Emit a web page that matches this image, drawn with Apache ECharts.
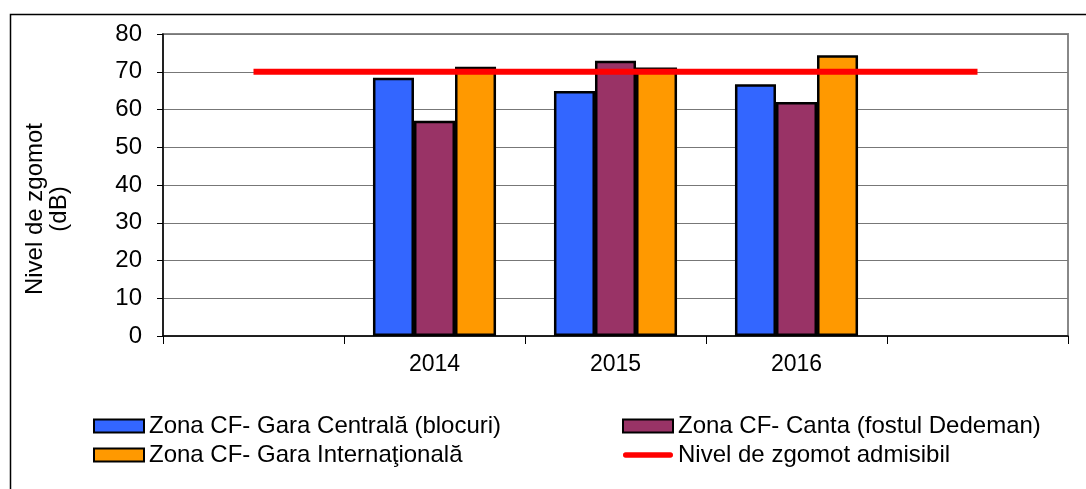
<!DOCTYPE html>
<html>
<head>
<meta charset="utf-8">
<script src="https://cdn.jsdelivr.net/npm/echarts@6/dist/echarts.min.js"></script>
<style>
  html, body { margin: 0; padding: 0; background: #fff; }
  #chart { width: 1086px; height: 489px; }
</style>
</head>
<body>
<div id="chart"></div>
<script>
// Categories (empty slots at both ends frame the three years)
const categories = ['', '2014', '2015', '2016', ''];

// Measured noise levels, dB
const garaCentrala = [null, 68.4, 64.9, 66.7, null];
const canta = [null, 57.0, 72.9, 62.0, null];
const garaInternationala = [null, 71.3, 71.1, 74.4, null];
// Admissible noise level, dB
const nivelAdmisibil = [70, 70, 70, 70, 70];

const yTicks = { min: 0, max: 80, interval: 10 };

const names = [
  'Zona CF- Gara Centrală (blocuri)',
  'Zona CF- Canta (fostul Dedeman)',
  'Zona CF- Gara Internaţională',
  'Nivel de zgomot admisibil'
];
const yAxisTitle = 'Nivel de zgomot\n(dB)';

const FONT = 'Liberation Sans, Arial, sans-serif';

const chart = echarts.init(document.getElementById('chart'), null, { renderer: 'canvas' });

const barStyle = (color) => ({ color: color, borderColor: '#000', borderWidth: 2.5 });

// rounded thick stroke used as the legend key of the limit line
const lineKey = 'path://M3,0 L53,0 A3,3 0 0 1 53,6 L3,6 A3,3 0 0 1 3,0 Z';

const legendText = { fontSize: 24, lineHeight: 24, fontFamily: FONT, color: '#000' };

chart.setOption({
  animation: false,
  backgroundColor: '#fff',
  textStyle: { fontFamily: FONT, color: '#000' },
  graphic: [{
    type: 'rect',
    left: 8, top: 12,
    shape: { width: 1200, height: 600 },
    style: { fill: 'none', stroke: '#000', lineWidth: 1.5 },
    silent: true, z: -10
  }, {
    type: 'text',
    x: 47, y: 209,
    rotation: Math.PI / 2,
    style: {
      text: yAxisTitle,
      font: '24px ' + FONT,
      fill: '#000',
      textAlign: 'center',
      textVerticalAlign: 'middle',
      lineHeight: 24
    },
    silent: true
  }],
  grid: {
    left: 163, right: 18, top: 34, bottom: 153,
    show: true, borderColor: '#888', borderWidth: 2, backgroundColor: '#fff'
  },
  legend: [{
    data: [names[0], names[2]],
    orient: 'vertical',
    left: 88, top: 409,
    icon: 'rect',
    itemWidth: 50, itemHeight: 13, itemGap: 5,
    textStyle: legendText
  }, {
    data: [
      { name: names[1] },
      { name: names[3], icon: lineKey, itemStyle: { color: '#FF0000', borderWidth: 0 } }
    ],
    orient: 'vertical',
    left: 617, top: 409,
    icon: 'rect',
    itemWidth: 50, itemHeight: 13, itemGap: 5,
    textStyle: legendText
  }],
  xAxis: {
    type: 'category',
    data: categories,
    axisLine: { lineStyle: { color: '#000', width: 1.5 } },
    axisTick: { show: true, length: 8, lineStyle: { color: '#000' } },
    axisLabel: { fontSize: 23, fontFamily: FONT, color: '#000', margin: 17 },
    splitLine: { show: false }
  },
  yAxis: {
    type: 'value',
    min: yTicks.min, max: yTicks.max, interval: yTicks.interval,
    axisLine: { show: true, lineStyle: { color: '#000', width: 1.5 } },
    axisTick: { show: true, length: 6, lineStyle: { color: '#000' } },
    axisLabel: { fontSize: 24, fontFamily: FONT, color: '#000', margin: 21 },
    splitLine: { show: true, lineStyle: { color: '#777', width: 1 } }
  },
  series: [{
    name: names[0], type: 'bar', data: garaCentrala,
    itemStyle: barStyle('#3366FF'),
    barGap: '0%', barCategoryGap: '32%'
  }, {
    name: names[1], type: 'bar', data: canta,
    itemStyle: barStyle('#993366')
  }, {
    name: names[2], type: 'bar', data: garaInternationala,
    itemStyle: barStyle('#FF9900')
  }, {
    name: names[3], type: 'line', data: nivelAdmisibil,
    symbol: 'none',
    lineStyle: { color: '#FF0000', width: 6 },
    itemStyle: { color: '#FF0000' },
    z: 5
  }]
});
</script>
</body>
</html>
